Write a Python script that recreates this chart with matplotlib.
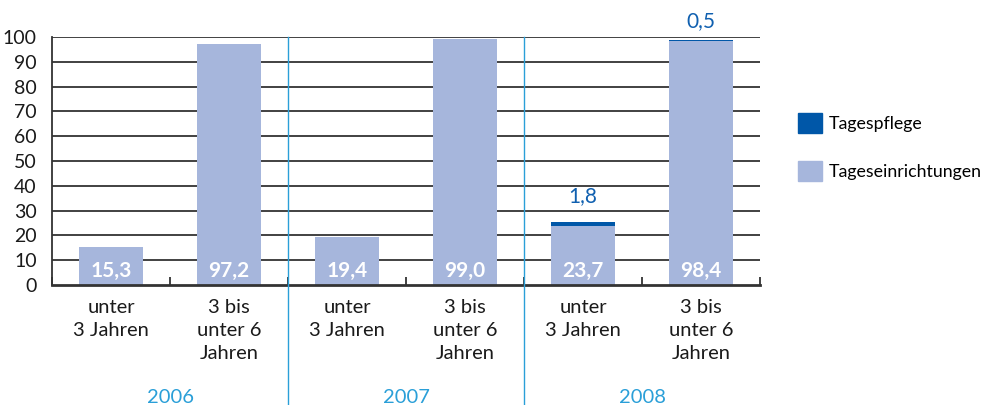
import matplotlib
matplotlib.use("Agg")
import matplotlib.pyplot as plt
import numpy as np
from matplotlib.patches import Patch
import matplotlib.transforms as mtransforms
import logging
logging.getLogger("matplotlib.font_manager").setLevel(logging.ERROR)

years = ["2006", "2007", "2008"]
age_groups = ["unter\n3 Jahren", "3 bis\nunter 6\nJahren"]
einrichtungen = [15.3, 97.2, 19.4, 99.0, 23.7, 98.4]
tagespflege = [0, 0, 0, 0, 1.8, 0.5]
einr_labels = ["15,3", "97,2", "19,4", "99,0", "23,7", "98,4"]
pflege_labels = ["", "", "", "", "1,8", "0,5"]
yticks = [0, 10, 20, 30, 40, 50, 60, 70, 80, 90, 100]

FONT = ["Lato", "DejaVu Sans"]
plt.rcParams["font.family"] = FONT

c_light = "#a6b6dc"
c_dark = "#0057a8"
c_year = "#2a9fd8"
c_grid = "#333333"
c_text = "#1a1a1a"

fig = plt.figure(figsize=(9.89, 4.05), dpi=100)
ax = fig.add_axes([52/989, 120/405, (760-52)/989, (285-37)/405])

n = len(einrichtungen)
x = np.arange(n)
w = 0.54
ax.bar(x, einrichtungen, width=w, color=c_light, zorder=2)
ax.bar(x, tagespflege, width=w, bottom=einrichtungen, color=c_dark, zorder=2)

ax.set_xlim(-0.5, n - 0.5)
ax.set_ylim(0, 100)
ax.set_yticks(yticks)
ax.set_yticklabels([str(t) for t in yticks], fontsize=14, color=c_text)
ax.tick_params(axis="y", length=0, pad=11)
for t in yticks[1:]:
    ax.axhline(t, color=c_grid, lw=1.3, zorder=1)

for s in ["top", "right"]:
    ax.spines[s].set_visible(False)
ax.spines["left"].set_color(c_grid)
ax.spines["left"].set_linewidth(1.3)
ax.spines["bottom"].set_color(c_grid)
ax.spines["bottom"].set_linewidth(2)
ax.spines["bottom"].set_zorder(3)

ax.set_xticks(np.arange(-0.5, n + 0.5, 1.0))
ax.set_xticklabels([])
ax.tick_params(axis="x", direction="in", length=6, width=1.3, color=c_grid)

label_offsets = [0, 0, 0, 0, 11, 6]
for i in range(n):
    ax.text(x[i], 1.5, einr_labels[i], ha="center", va="bottom", color="white",
            fontsize=15, fontweight="bold", zorder=4)
    if pflege_labels[i]:
        ax.annotate(pflege_labels[i], (x[i], einrichtungen[i] + tagespflege[i]),
                    xytext=(0, label_offsets[i]), textcoords="offset points",
                    ha="center", va="bottom", color="#1060b0", fontsize=15, zorder=4)

trans = mtransforms.blended_transform_factory(ax.transData, ax.transAxes)
for i in range(n):
    ax.text(x[i], -0.055, age_groups[i % 2], transform=trans, ha="center", va="top",
            fontsize=14.5, color=c_text, linespacing=1.45)

for g, yr in enumerate(years):
    ax.text(2 * g + 0.5, -0.42, yr, transform=trans, ha="center", va="top",
            fontsize=14.5, color=c_year)
    if g > 0:
        ax.plot([2 * g - 0.5, 2 * g - 0.5], [1, -0.49], transform=trans,
                color=c_year, lw=1, clip_on=False, zorder=5)

handles = [Patch(color=c_dark, label="Tagespflege"),
           Patch(color=c_light, label="Tageseinrichtungen")]
fig.legend(handles=handles, loc="upper left", bbox_to_anchor=(798/989, 1 - 113/405),
           frameon=False, fontsize=12.8, handlelength=1.35, handleheight=1.35,
           labelspacing=1.57, handletextpad=0.4, borderpad=0, borderaxespad=0)

fig.savefig("out.png", dpi=100)
